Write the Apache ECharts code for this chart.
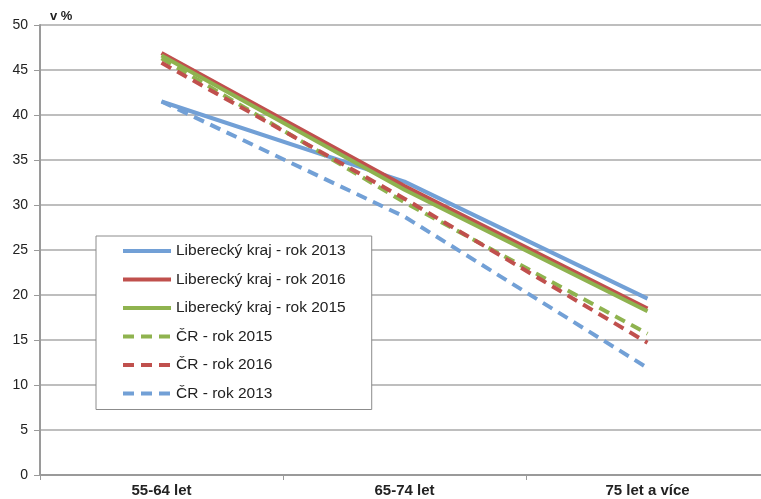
<!DOCTYPE html>
<html>
<head>
<meta charset="utf-8">
<script src="https://cdn.jsdelivr.net/npm/echarts@6/dist/echarts.min.js"></script>
<style>
html,body{margin:0;padding:0;background:#fff;}
#chart{width:761px;height:499px;}
</style>
</head>
<body>
<div id="chart"></div>
<script>
var categories = ['55-64 let', '65-74 let', '75 let a více'];
var lk2013 = [41.5, 32.6, 19.6];
var lk2016 = [46.9, 32.1, 18.5];
var lk2015 = [46.6, 31.7, 18.2];
var cr2015 = [46.3, 30.3, 15.7];
var cr2016 = [45.8, 30.7, 14.7];
var cr2013 = [41.5, 28.7, 11.9];
var seriesNames = ['Liberecký kraj - rok 2013', 'Liberecký kraj - rok 2016', 'Liberecký kraj - rok 2015', 'ČR - rok 2015', 'ČR - rok 2016', 'ČR - rok 2013'];

var BLUE = '#72a0d6', RED = '#c0504d', GREEN = '#8fb34f';
function mk(name, data, color, dashed) {
  return {
    name: name, type: 'line', data: data, symbol: 'circle', showSymbol: false, smooth: false,
    lineStyle: { color: color, width: 4, type: dashed ? [11, 7] : 'solid', cap: 'butt' },
    itemStyle: { color: color },
    emphasis: { disabled: true }, animation: false
  };
}
var chart = echarts.init(document.getElementById('chart'));
chart.setOption({
  animation: false,
  grid: { left: 40, width: 729, top: 25, bottom: 24, containLabel: false, outerBoundsMode: 'none' },
  legend: {
    orient: 'vertical', left: 96, top: 236,
    data: seriesNames,
    itemWidth: 48, itemHeight: 14, itemGap: 12.5,
    padding: [7, 26, 8, 25],
    borderColor: '#8c8c8c', borderWidth: 1, backgroundColor: '#fff',
    textStyle: { fontFamily: 'Liberation Sans, Arial, sans-serif', fontSize: 15.5, color: '#222' },
    itemStyle: { color: 'rgba(0,0,0,0)', borderWidth: 0, opacity: 0 },
    lineStyle: { width: 4 }
  },
  xAxis: {
    type: 'category', data: categories, boundaryGap: true,
    axisLine: { lineStyle: { color: '#9a9a9a', width: 2 } },
    axisTick: { show: true, length: 5, lineStyle: { color: '#9a9a9a', width: 1 } },
    axisLabel: { fontFamily: 'Liberation Sans, Arial, sans-serif', fontWeight: 'bold', fontSize: 15, color: '#222', margin: 8 }
  },
  yAxis: {
    type: 'value', min: 0, max: 50, interval: 5,
    name: 'v %', nameLocation: 'end', nameGap: 2,
    nameTextStyle: { fontFamily: 'Liberation Sans, Arial, sans-serif', fontWeight: 'bold', fontSize: 13, color: '#222', align: 'left', padding: [0, 0, 0, 10] },
    axisLine: { show: true, lineStyle: { color: '#9a9a9a', width: 2 } },
    axisTick: { show: true, length: 6, lineStyle: { color: '#9a9a9a', width: 1 } },
    axisLabel: { fontFamily: 'Liberation Sans, Arial, sans-serif', fontSize: 14, color: '#222', margin: 12 },
    splitLine: { show: true, lineStyle: { color: '#a8a8a8', width: 1.5 } }
  },
  series: [
    mk(seriesNames[0], lk2013, BLUE, false),
    mk(seriesNames[1], lk2016, RED, false),
    mk(seriesNames[2], lk2015, GREEN, false),
    mk(seriesNames[3], cr2015, GREEN, true),
    mk(seriesNames[4], cr2016, RED, true),
    mk(seriesNames[5], cr2013, BLUE, true)
  ]
});
</script>
</body>
</html>
